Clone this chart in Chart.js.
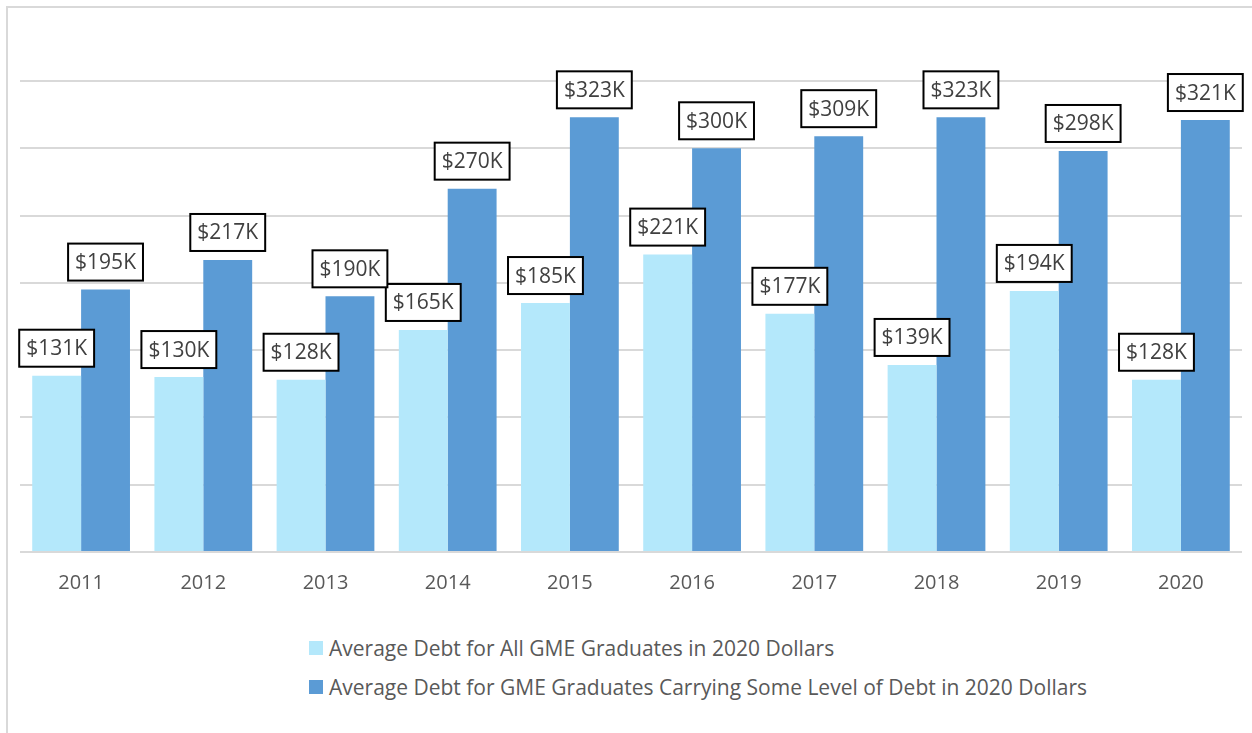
<!DOCTYPE html>
<html>
<head>
<meta charset="utf-8">
<script src="https://cdn.jsdelivr.net/npm/chart.js@4/dist/chart.umd.min.js"></script>
<style>
  body { margin: 0; background: #fff; width: 1252px; height: 733px; overflow: hidden; position: relative; }
  #frame { position: absolute; left: 6px; top: 6px; right: -10px; bottom: -10px; border-left: 2px solid #d9d9d9; border-top: 2px solid #d9d9d9; }
  #wrap { position: absolute; left: 0; top: 0; width: 1252px; height: 626px; }
  #legend { position: absolute; left: 309px; top: 628px; font-family: "Open Sans", sans-serif; font-size: 21px; color: #595959; }
  .item { display: flex; align-items: center; height: 39px; white-space: nowrap; }
  .swatch { width: 14px; height: 14px; margin-right: 6px; flex: none; }
</style>
</head>
<body>
<div id="frame"></div>
<div id="wrap"><canvas id="chart"></canvas></div>
<div id="legend"></div>
<script>
const years = ["2011", "2012", "2013", "2014", "2015", "2016", "2017", "2018", "2019", "2020"];
const allGrads = [131, 130, 128, 165, 185, 221, 177, 139, 194, 128];
const debtHolders = [195, 217, 190, 270, 323, 300, 309, 323, 298, 321];
const seriesNames = [
  "Average Debt for All GME Graduates in 2020 Dollars",
  "Average Debt for GME Graduates Carrying Some Level of Debt in 2020 Dollars"
];
const seriesColors = ["#b4e8fb", "#5b9bd5"];

const FONT = '"Open Sans", sans-serif';

// boxed value labels above each bar
const labelBoxes = {
  id: "labelBoxes",
  afterDatasetsDraw(chart) {
    const ctx = chart.ctx;
    ctx.save();
    ctx.font = "21px " + FONT;
    ctx.textAlign = "center";
    ctx.textBaseline = "middle";
    chart.data.datasets.forEach((ds, i) => {
      chart.getDatasetMeta(i).data.forEach((bar, j) => {
        const text = "$" + ds.data[j] + "K";
        const w = ctx.measureText(text).width + 14;
        const h = 37;
        const x = bar.x - w / 2;
        const y = bar.y - 9 - h;
        ctx.fillStyle = "#fff";
        ctx.fillRect(x, y, w, h);
        ctx.strokeStyle = "#000";
        ctx.lineWidth = 2;
        ctx.strokeRect(x, y, w, h);
        ctx.fillStyle = "#404040";
        ctx.fillText(text, bar.x, y + h / 2 + 1);
      });
    });
    ctx.restore();
  }
};

new Chart(document.getElementById("chart"), {
  type: "bar",
  data: {
    labels: years,
    datasets: [
      { label: seriesNames[0], data: allGrads, backgroundColor: seriesColors[0] },
      { label: seriesNames[1], data: debtHolders, backgroundColor: seriesColors[1] }
    ]
  },
  options: {
    responsive: true,
    maintainAspectRatio: false,
    animation: false,
    categoryPercentage: 0.8,
    barPercentage: 1.0,
    layout: { padding: { left: 20, right: 10, top: 81, bottom: 20 } },
    plugins: { legend: { display: false }, tooltip: { enabled: false } },
    scales: {
      x: {
        grid: { display: false },
        border: { display: false },
        ticks: { color: "#595959", font: { family: "Open Sans", size: 20 }, padding: 11 }
      },
      y: {
        min: 0,
        max: 350,
        ticks: { display: false, stepSize: 50 },
        grid: { color: "#d9d9d9", lineWidth: 2, drawTicks: false },
        border: { display: false }
      }
    }
  },
  plugins: [labelBoxes]
});

const legend = document.getElementById("legend");
seriesNames.forEach((name, i) => {
  const item = document.createElement("div");
  item.className = "item";
  const sw = document.createElement("span");
  sw.className = "swatch";
  sw.style.background = seriesColors[i];
  const txt = document.createElement("span");
  txt.textContent = name;
  item.appendChild(sw);
  item.appendChild(txt);
  legend.appendChild(item);
});
</script>
</body>
</html>
